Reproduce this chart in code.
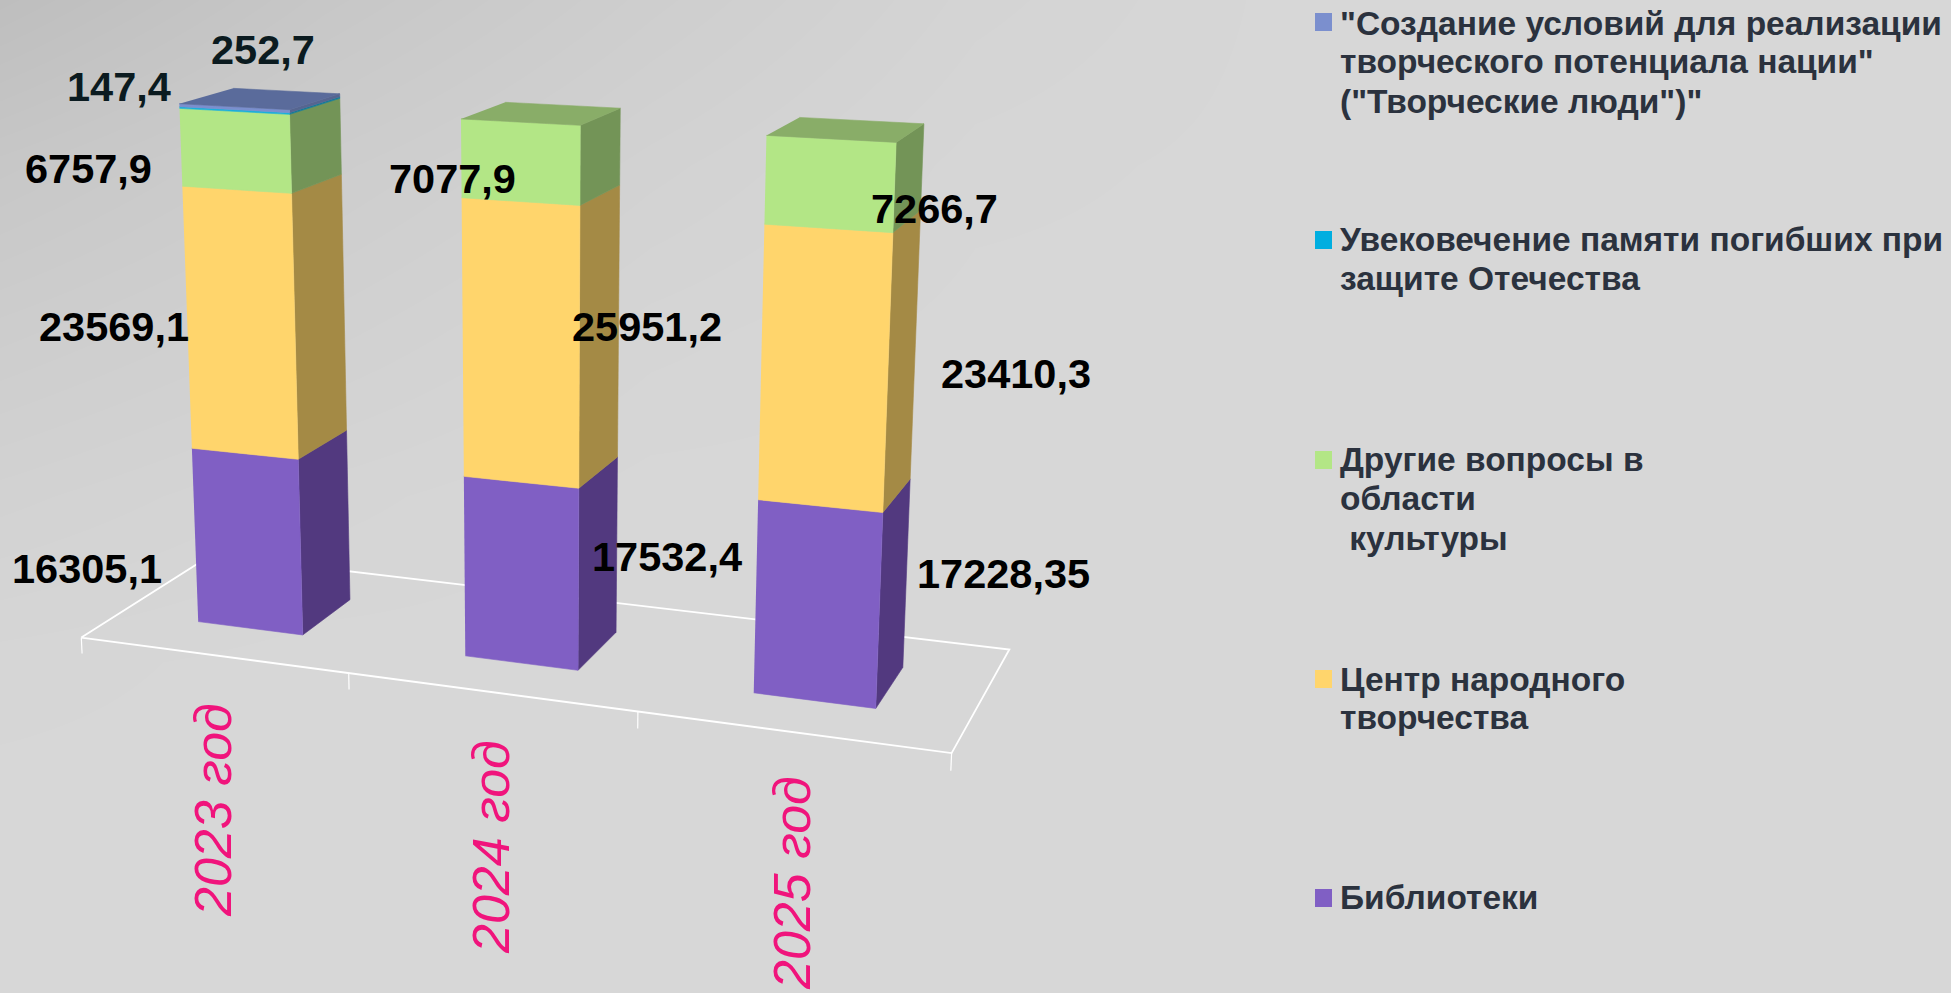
import numpy as np, plotly.graph_objects as go

# ---------- data ----------
YEARS = ["2023 год", "2024 год", "2025 год"]
SERIES = ["Библиотеки", "Центр народного творчества", "Другие вопросы в области культуры",
          "Увековечение памяти погибших при защите Отечества",
          "\"Создание условий для реализации творческого потенциала нации\" (\"Творческие люди\")\""]
BIBLIOTEKI = [16305.1, 17532.4, 17228.35]
TSENTR     = [23569.1, 25951.2, 23410.3]
DRUGIE     = [6757.9, 7077.9, 7266.7]
PAMYAT     = [147.4, 0, 0]
TVORCH     = [252.7, 0, 0]
VALUES = [BIBLIOTEKI, TSENTR, DRUGIE, PAMYAT, TVORCH]

# ---------- 3-D view of the 100 % stacked chart: (category, depth, height) -> plot axes ----------
CAMERA = np.array([[254.296, 151.03, -6.106361, 81.30461],
                   [10.1838, -27.73356, -113.1902, 637.5833],
                   [-0.03762592, 0.09888563, -0.01129627, 1.0]])
FULL_HEIGHT = 4.7045
HALF_W, Y0, Y1 = 0.2002, 0.2923, 0.6990

def view(pts):
    p = np.c_[np.array(pts, float), np.ones(len(pts))]
    h = (CAMERA @ p.T).T
    return h[:, 0] / h[:, 2], h[:, 1] / h[:, 2]

FRONT = ["#805FC4", "#FFD56C", "#B3E686", "#1BB0DC", "#7B8FCE"]
SIDE  = ["#52397F", "#A48A45", "#739457", "#127A99", "#566590"]
TOP   = ["#6A4FA8", "#C9A850", "#89AD68", "#1590B5", "#5A6B9B"]
FLOOR_C = "#FFFFFF"

fig = go.Figure()

# soft backdrop, lighter away from the top-left corner
bg_x = [0, 325, 650, 975, 1300, 1625, 1951]
bg_y = [0, 165, 331, 496, 662, 827, 993]
bg_z = [[190, 199, 206, 212, 215, 215, 215],
        [199, 205, 210, 214, 215, 215, 215],
        [205, 209, 213, 215, 215, 215, 215],
        [210, 213, 215, 215, 215, 215, 215],
        [214, 215, 215, 215, 215, 215, 215],
        [215, 215, 215, 215, 215, 215, 215],
        [215, 215, 215, 215, 215, 215, 215]]
fig.add_trace(go.Heatmap(x=bg_x, y=bg_y, z=bg_z, zmin=0, zmax=255, zsmooth="best", showscale=False,
                         colorscale=[[0, "#000000"], [1, "#FFFFFF"]], hoverinfo="skip"))

def line(pts, width=1.8):
    x, y = view(pts)
    fig.add_trace(go.Scatter(x=x, y=y, mode="lines", line=dict(color=FLOOR_C, width=width),
                             hoverinfo="skip", showlegend=False))
n = len(YEARS)
line([(0, 0, 0), (n, 0, 0), (n, 1, 0), (0, 1, 0), (0, 0, 0)])
for t in range(n + 1):
    line([(t, 0, 0), (t, 0, -0.15)], 1.2)

def face(pts, color, name):
    x, y = view(pts)
    fig.add_trace(go.Scatter(x=x, y=y, mode="lines", fill="toself", fillcolor=color,
                             line=dict(color=color, width=0.6), name=name,
                             hoverinfo="skip", showlegend=False))

for i, year in enumerate(YEARS):
    total = sum(s[i] for s in VALUES)
    xl, xr = i + 0.5 - HALF_W, i + 0.5 + HALF_W
    base, top_series = 0.0, 0
    for k, s in enumerate(VALUES):
        if s[i] == 0:
            continue
        top = base + s[i] / total * FULL_HEIGHT
        face([(xr, Y0, base), (xr, Y1, base), (xr, Y1, top), (xr, Y0, top)], SIDE[k], SERIES[k])
        face([(xl, Y0, base), (xr, Y0, base), (xr, Y0, top), (xl, Y0, top)], FRONT[k], SERIES[k])
        base, top_series = top, k
    face([(xl, Y0, base), (xr, Y0, base), (xr, Y1, base), (xl, Y1, base)], TOP[top_series], SERIES[top_series])

def fmt(v):
    return str(v).replace(".", ",")

# value labels: (series, category) -> placement
LABEL_AT = {(4, 0): (263, 49), (3, 0): (119, 86), (2, 0): (88, 168), (2, 1): (452, 178), (2, 2): (934, 208),
            (1, 0): (114, 326), (1, 1): (647, 326), (1, 2): (1016, 373),
            (0, 0): (87, 568), (0, 1): (667, 556), (0, 2): (1003, 573)}
for (k, i), (lx, ly) in LABEL_AT.items():
    fig.add_annotation(x=lx, y=ly, xref="x", yref="y", text=fmt(VALUES[k][i]), showarrow=False,
                       font=dict(family="Liberation Sans", size=41.5, color="#0B1B20" if k >= 3 else "#000000", weight="bold"))

YEAR_AT = [(213, 810), (491, 847), (792, 883)]
for yr, (lx, ly) in zip(YEARS, YEAR_AT):
    fig.add_annotation(x=lx, y=ly, xref="x", yref="y", text=yr, textangle=-90, showarrow=False,
                       font=dict(family="Liberation Sans", size=52, color="#F0147C", style="italic"))

# legend, top to bottom
LEGEND_TEXT = [["\"Создание условий для реализации", "творческого потенциала нации\"", "(\"Творческие люди\")\""],
               ["Увековечение памяти погибших при", "защите Отечества"],
               ["Другие вопросы в", "области", "\u00a0культуры"],
               ["Центр народного", "творчества"],
               ["Библиотеки"]]
LEGEND_C = ["#7B8FCE", "#00AEE0", "#B3E686", "#FFD56C", "#805FC4"]
LEGEND_SQ = [22, 240, 460, 679, 898]
LEGEND_LINE_Y = [[24, 62, 102], [240, 279], [460, 499, 539], [680, 718], [898]]
for lines, col, sq, ys in zip(LEGEND_TEXT, LEGEND_C, LEGEND_SQ, LEGEND_LINE_Y):
    fig.add_shape(type="rect", xref="x", yref="y", x0=1315, x1=1332, y0=sq - 9, y1=sq + 9,
                  fillcolor=col, line=dict(width=0))
    for txt, ly in zip(lines, ys):
        fig.add_annotation(x=1338, y=ly - 1, xref="x", yref="y", xanchor="left", yanchor="middle", align="left",
                           text=txt, showarrow=False,
                           font=dict(family="Liberation Sans", size=33.5, color="#2B323E", weight="bold"))

fig.update_layout(width=1951, height=993, margin=dict(l=0, r=0, t=0, b=0), paper_bgcolor="#D7D7D7",
                  plot_bgcolor="#D7D7D7", showlegend=False,
                  xaxis=dict(range=[0, 1951], visible=False, fixedrange=True),
                  yaxis=dict(range=[993, 0], visible=False, fixedrange=True))
fig.write_html("out.html", config=dict(displayModeBar=False),
               post_script="document.body.style.margin=0;document.body.style.overflow='hidden';")
